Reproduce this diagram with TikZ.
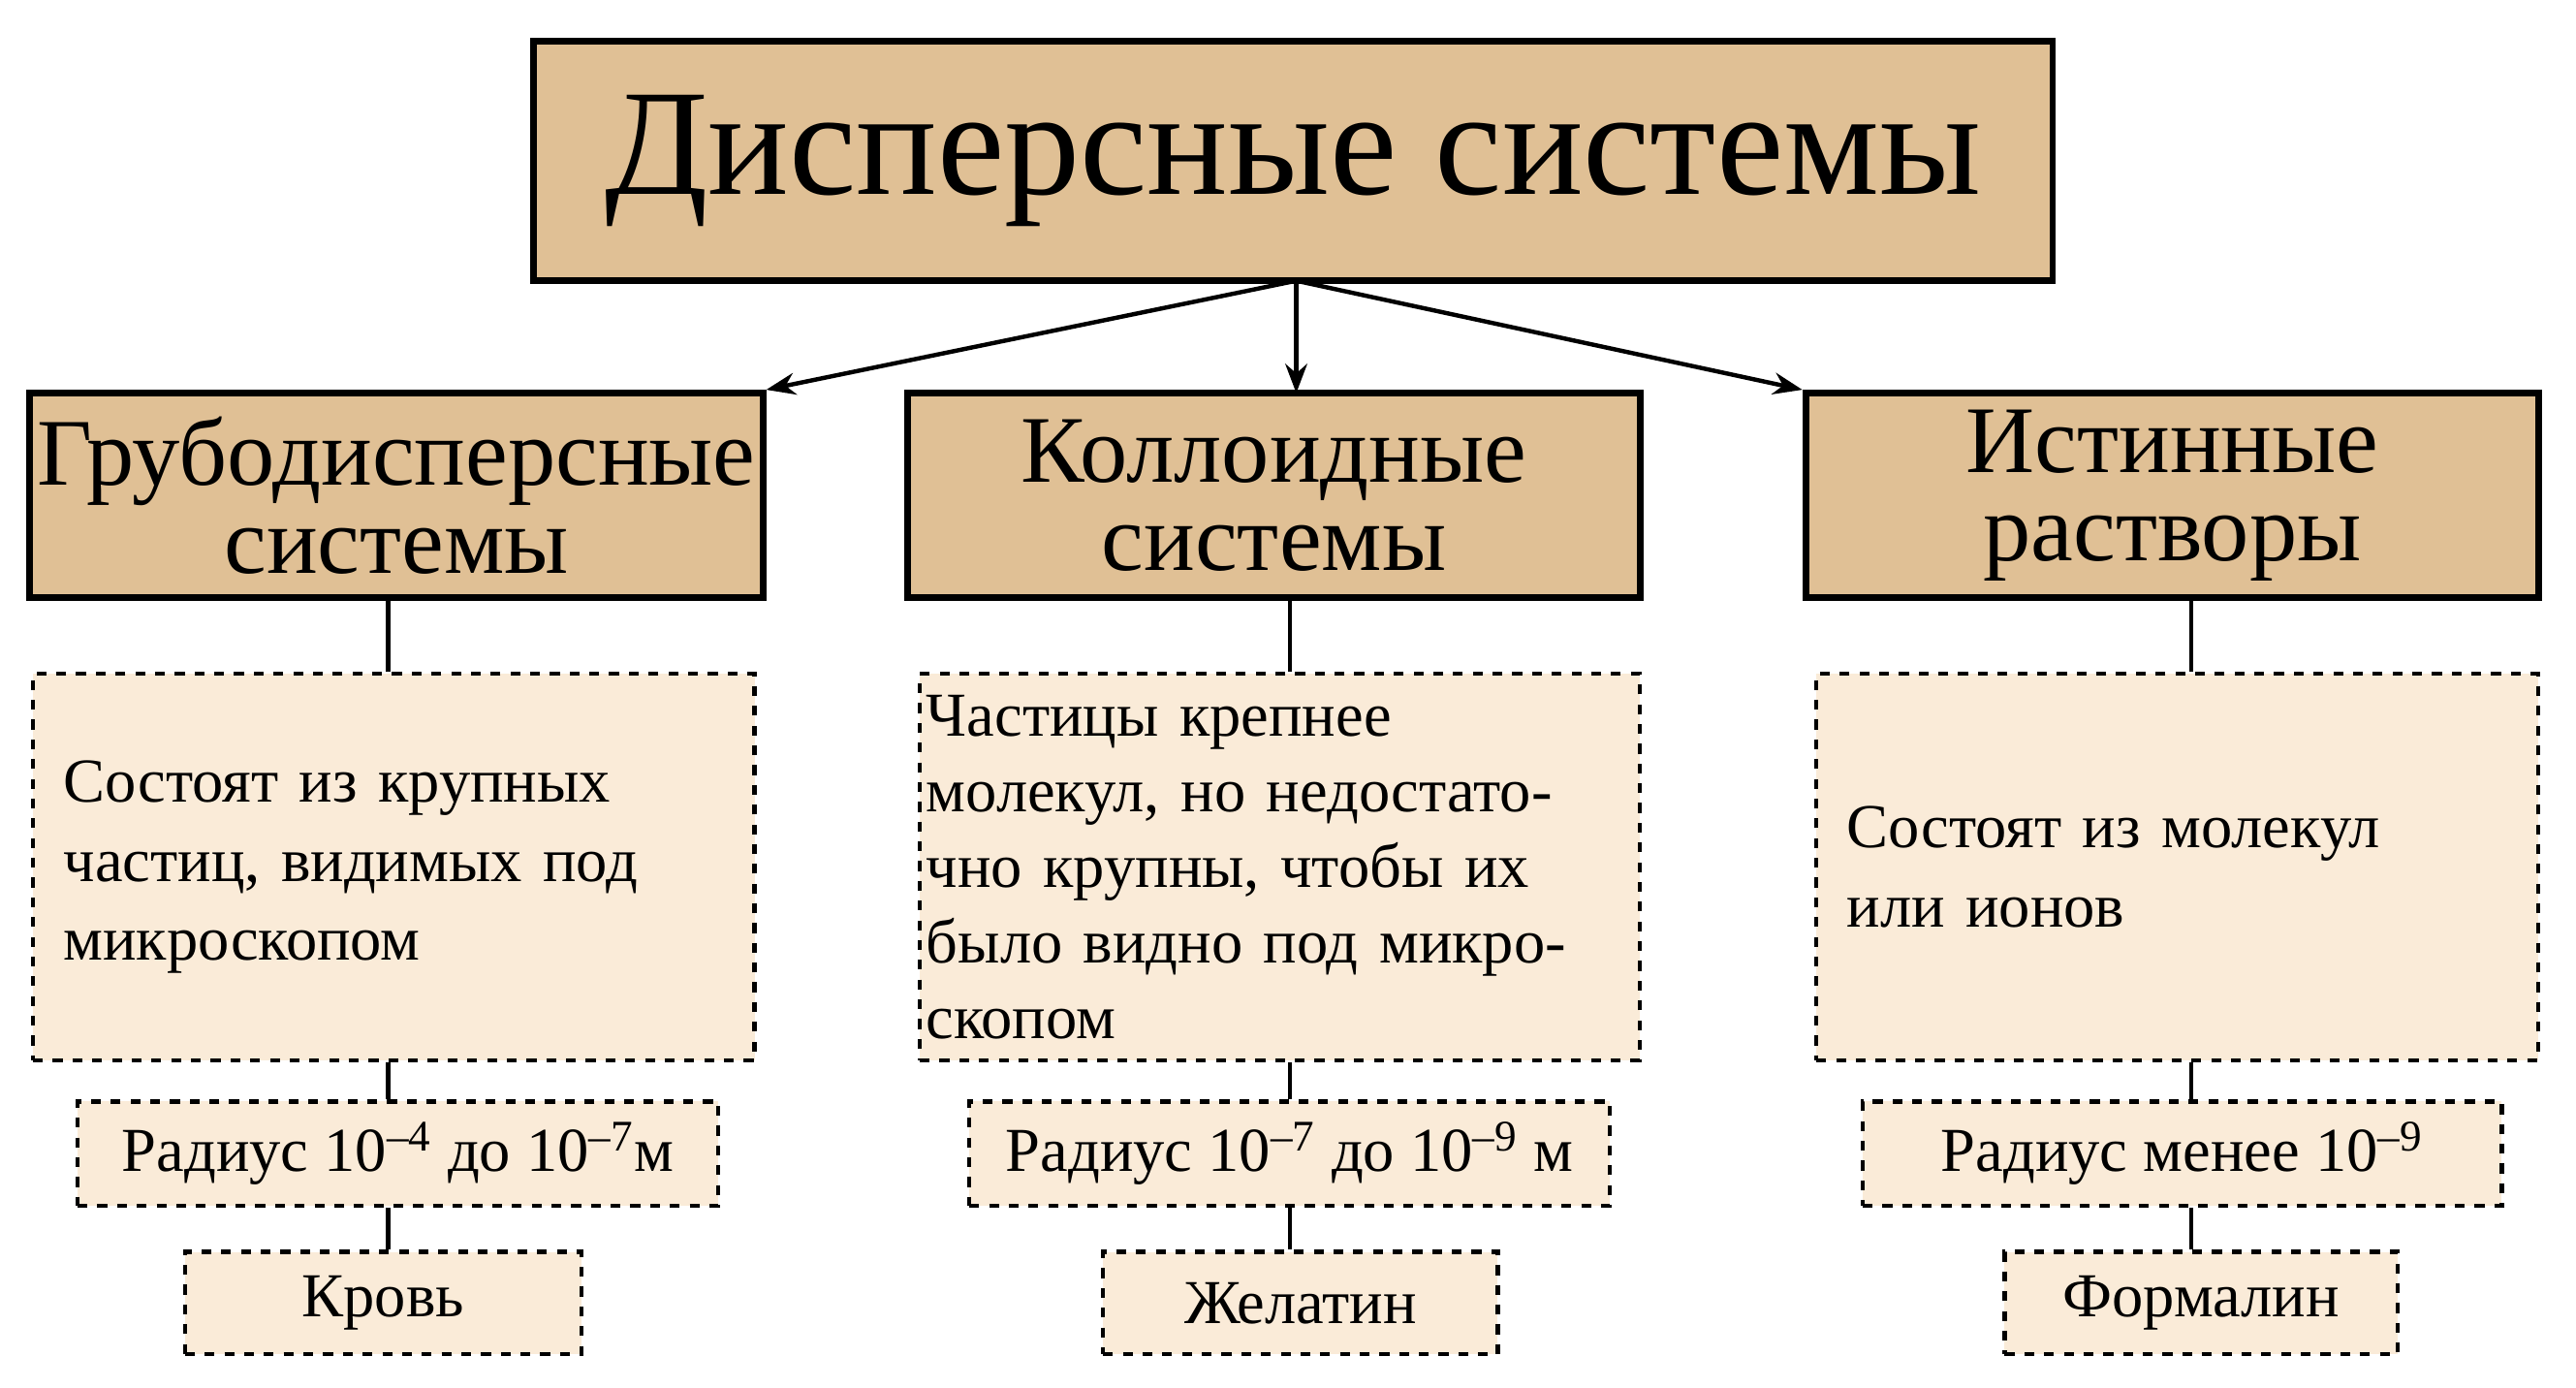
\documentclass[tikz,border=0pt]{standalone}
\usepackage{fontspec}
\setmainfont{Liberation Serif}
\usetikzlibrary{arrows.meta, positioning}
\definecolor{tan}{HTML}{E0C095}
\definecolor{cream}{HTML}{FAEBD8}

\begin{document}
\begin{tikzpicture}[
            x = 0.5bp, y = -0.5bp,
            >= Stealth, % arrow head style
            semithick % line style
        ]

        \tikzstyle{head}=[
            draw = black, line width = 2bp, fill = tan,
            inner sep = 0pt, align = center
        ]
        \tikzstyle{info}=[
            draw = black, line width = 1.3bp, dashed, fill = cream,
            inner sep = 0pt
        ]
        \tikzstyle{link}=[black, line width = 1.3bp]

        \useasboundingbox (0, 0) rectangle (1560, 840);

        \node[head, minimum width = 460bp, minimum height = 72.5bp,
              font = \fontsize{46}{50}\selectfont] (top) at (783, 97.5) {Дисперсные системы};

        \node[head, minimum width = 222bp, minimum height = 62bp,
              font = \fontsize{29}{27}\selectfont] (coarse) at (240, 300) {Грубодисперсные\\системы};
        \node[head, minimum width = 222bp, minimum height = 62bp,
              font = \fontsize{29}{27}\selectfont] (colloid) at (771.5, 300) {Коллоидные\\системы};
        \node[head, minimum width = 222bp, minimum height = 62bp,
              font = \fontsize{29}{27}\selectfont] (solution) at (1315.5, 300) {Истинные\\растворы};

        \node[info, minimum width = 218.5bp, minimum height = 117bp,
              text width = 200bp, align = left,
              font = \fontsize{19}{24}\selectfont] (coarsetxt) at (238.5, 525)
              {Состоят из крупных\\частиц, видимых под\\микроскопом};
        \node[info, minimum width = 218bp, minimum height = 117bp,
              text width = 214bp, align = left,
              font = \fontsize{19}{23}\selectfont] (colloidtxt) at (775, 525)
              {Частицы крепнее\\молекул, но недостато-\\чно крупны, чтобы их\\было видно под микро-\\скопом};
        \node[info, minimum width = 218.5bp, minimum height = 117bp,
              text width = 200bp, align = left,
              font = \fontsize{19}{24}\selectfont] (solutiontxt) at (1318.5, 525)
              {Состоят из молекул\\или ионов\\[18bp]};

        \node[info, minimum width = 194bp, minimum height = 31.5bp,
              font = \fontsize{19}{22}\selectfont] (coarserad) at (241, 698.5)
              {Радиус 10\textsuperscript{–4} до 10\textsuperscript{–7}м};
        \node[info, minimum width = 194bp, minimum height = 31.5bp,
              font = \fontsize{19}{22}\selectfont] (colloidrad) at (781, 698.5)
              {Радиус 10\textsuperscript{–7} до 10\textsuperscript{–9} м};
        \node[info, minimum width = 193.5bp, minimum height = 31.5bp,
              font = \fontsize{19}{22}\selectfont] (solutionrad) at (1321.5, 698.5)
              {Радиус менее 10\textsuperscript{–9}};

        \node[info, minimum width = 120bp, minimum height = 31bp,
              font = \fontsize{19}{22}\selectfont] (coarseex) at (232, 789) {Кровь};
        \node[info, minimum width = 119.5bp, minimum height = 31bp,
              font = \fontsize{19}{22}\selectfont] (colloidex) at (787.5, 789) {Желатин};
        \node[info, minimum width = 119bp, minimum height = 31bp,
              font = \fontsize{19}{22}\selectfont] (solutionex) at (1333, 789) {Формалин};

        \coordinate (fork) at (785, 170);
        \draw[->, link] (fork) -- (coarse.north east);
        \draw[->, link] (fork) -- (785, 238);
        \draw[->, link] (fork) -- (solution.north west);

        \draw[link] (235, 362) -- (coarsetxt.north -| 235, 0);
        \draw[link] (781, 362) -- (colloidtxt.north -| 781, 0);
        \draw[link] (1327, 362) -- (solutiontxt.north -| 1327, 0);
        \draw[link] (coarsetxt.south -| 235, 0) -- (coarserad.north -| 235, 0);
        \draw[link] (colloidtxt.south -| 781, 0) -- (colloidrad.north -| 781, 0);
        \draw[link] (solutiontxt.south -| 1327, 0) -- (solutionrad.north -| 1327, 0);
        \draw[link] (coarserad.south -| 235, 0) -- (coarseex.north -| 235, 0);
        \draw[link] (colloidrad.south -| 781, 0) -- (colloidex.north -| 781, 0);
        \draw[link] (solutionrad.south -| 1327, 0) -- (solutionex.north -| 1327, 0);
    \end{tikzpicture}
\end{document}
